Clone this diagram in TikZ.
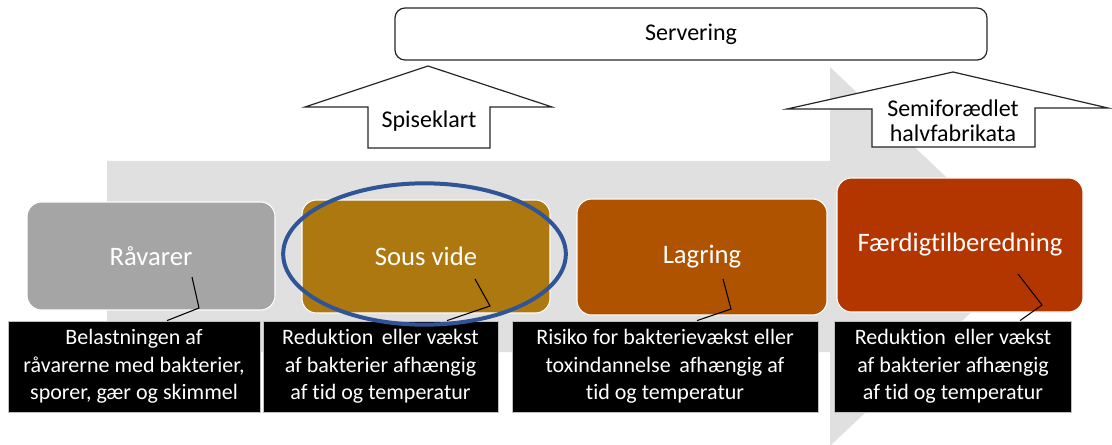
\documentclass[tikz,border=0pt]{standalone}
\usepackage{fontspec}
\setmainfont{Carlito}[Ligatures=NoCommon]
\usetikzlibrary{calc}
\definecolor{flowgray}{HTML}{E0E0E0}
\definecolor{rawgray}{HTML}{A5A5A5}
\definecolor{sousbrown}{HTML}{AD780F}
\definecolor{storeorange}{HTML}{AF5300}
\definecolor{finishred}{HTML}{B33500}
\definecolor{markblue}{HTML}{2F5597}

\begin{document}
\begin{tikzpicture}[x=0.75pt, y=-0.75pt,
  stage/.style={rounded corners=11pt, draw=white, line width=0.8pt, text=white, font=\fontsize{20}{24}\selectfont, inner sep=0pt},
  note/.style={fill=black, draw=gray!50, line width=0.6pt, text=white, align=center, font=\fontsize{16.5}{20.5}\selectfont, minimum height=68.25pt, inner sep=0pt},
  callout/.style={black, line width=0.8pt},
  uparrow/.style={draw=black!85, fill=white, line width=0.9pt, line join=miter},
  label/.style={font=\fontsize{18}{19}\selectfont, align=center, inner sep=0pt}]
\useasboundingbox (0,0) rectangle (1112,445);
% big process arrow in the back
\fill[flowgray] (107,161) -- (830,161) -- (830,67) -- (1030,256.5) -- (830,446) -- (830,352) -- (107,352) -- cycle;
% serving box and the two arrows up to it
\node[draw=black!85, line width=0.9pt, rounded corners=7.5pt, minimum width=444pt, minimum height=39pt, font=\fontsize{18}{19}\selectfont] (serv) at (691,34) {Servering};
\draw[uparrow] (305,107) -- (428,66) -- (552,107) -- (490,107) -- (490,148) -- (368,148) -- (368,107) -- cycle;
\node[label] (spise) at (429,121) {Spiseklart};
\draw[uparrow] (787,109) -- (953,72) -- (1108,108) -- (1035,108) -- (1035,147) -- (872,147) -- (872,109) -- cycle;
\node[label, font=\fontsize{18}{18.75}\selectfont] (semi) at (953,121) {Semiforædlet\\halvfabrikata};
% the four steps
\node[stage, fill=rawgray, minimum width=186pt, minimum height=81pt] (raw) at (151,256) {Råvarer};
\node[stage, fill=sousbrown, minimum width=186pt, minimum height=84.75pt] (sous) at (426,256.5) {Sous vide};
\node[stage, fill=storeorange, minimum width=187.5pt, minimum height=87pt] (store) at (702,257) {Lagring};
\node[stage, fill=finishred, minimum width=184.5pt, minimum height=100.5pt] (finish) at (960,245) {Færdigtilberedning};
% notes under the steps
\node[note, minimum width=189pt] (nraw) at (134,366.5) {Belastningen af\\råvarerne med bakterier,\\sporer, gær og skimmel};
\node[note, minimum width=176.25pt] (nsous) at (380.5,366.5) {Reduktion\, eller vækst\\af bakterier afhængig\\af tid og temperatur};
\node[note, minimum width=229.5pt] (nstore) at (665,366.5) {Risiko for bakterievækst eller\\toxindannelse\, afhængig af\\tid og temperatur};
\node[note, minimum width=177.75pt] (nfinish) at (953,366.5) {Reduktion\, eller vækst\\af bakterier afhængig\\af tid og temperatur};
% callout lines
\coordinate (craw) at (192,277);
\coordinate (csous) at (475,279);
\coordinate (cstore) at (723,279);
\coordinate (cfinish) at (1018,274);
\draw[callout] (craw) -- (199,308) -- (nraw.north -| 167,0);
\draw[callout] (csous) -- (490,306) -- (nsous.north -| 447,0);
\draw[callout] (cstore) -- (731,309) -- (nstore.north -| 697,0);
\draw[callout] (cfinish) -- (1042,305) -- (nfinish.north -| 1020,0);
% sous vide marked
\draw[markblue, line width=3pt] (sous.center) ++(-1.5,-2.5) ellipse [x radius=106pt, y radius=53pt];
\end{tikzpicture}
\end{document}
